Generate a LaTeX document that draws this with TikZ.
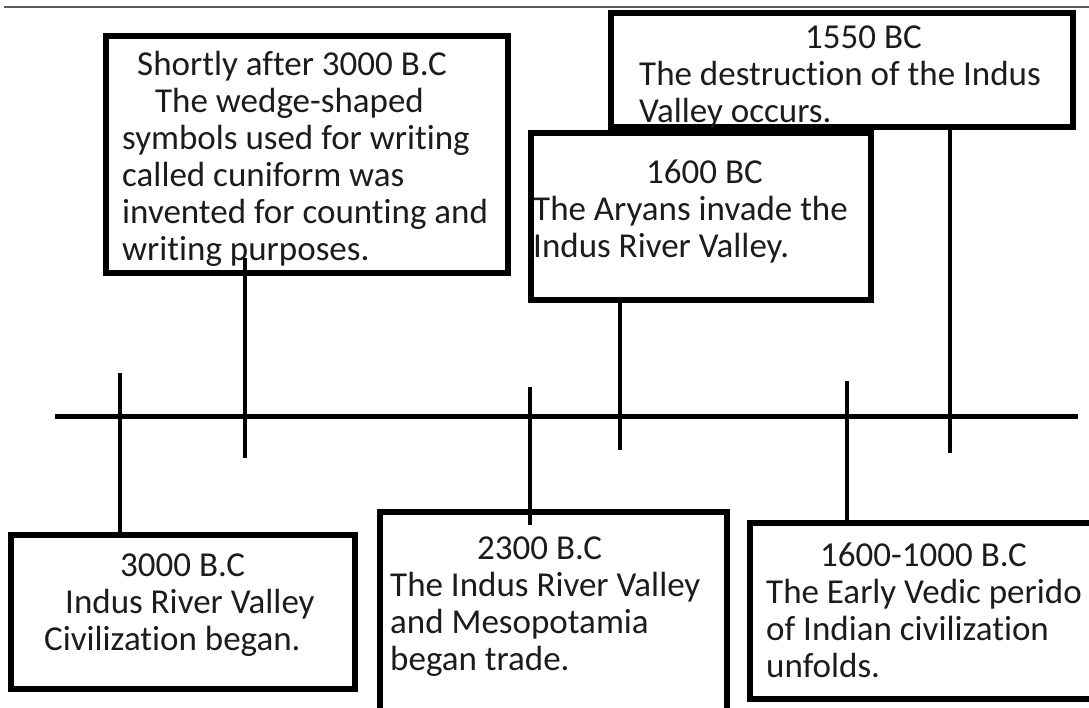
\documentclass[tikz,border=0pt]{standalone}
\usepackage{fontspec}
\setmainfont{Carlito}[Ligatures=NoCommon]
\usetikzlibrary{positioning,calc}
\definecolor{ink}{HTML}{1C1C1C}
\definecolor{rulegray}{HTML}{5A5A5A}
\tikzset{evbox/.style={draw=black,fill=white,line width=5.5pt,inner sep=0pt,anchor=north west},evtext/.style={anchor=north west,inner sep=0pt,align=left,text=ink,font=\fontsize{35}{37}\selectfont},tline/.style={draw=black,line width=5pt},tick/.style={draw=black,line width=4pt},topline/.style={draw=rulegray,line width=2pt}}

\begin{document}
\begin{tikzpicture}[x=1pt,y=1pt]
\useasboundingbox (0,0) rectangle (1089,-707);

\coordinate (topL) at (4,-7); \coordinate (topR) at (1089,-7);
\draw[topline] (topL)--(topR);

\node[evbox,minimum width=402pt,minimum height=237pt] (shortly) at (103,-33) {};
\node[evbox,minimum width=462pt,minimum height=114pt] (destroy) at (608,-10) {};
\node[evbox,minimum width=340pt,minimum height=167pt] (aryans) at (528,-130) {};
\node[evbox,minimum width=344pt,minimum height=154pt] (indus) at (8,-532) {};
\node[evbox,minimum width=347pt,minimum height=210pt] (trade) at (377,-509) {};
\node[evbox,minimum width=360pt,minimum height=176pt] (vedic) at (747,-520) {};

\node[evtext] (shortlytxt) at (122,-49) {\strut\hspace*{15pt}Shortly after 3000 B.C\\\hspace*{33pt}The wedge-shaped\\symbols used for writing\\called cuniform was\\invented for counting and\\writing purposes.};
\node[evtext] (destroytxt) at (639,-22) {\strut\hspace*{166pt}1550 BC\\The destruction of the Indus\\Valley occurs.};
\node[evtext] (aryanstxt) at (533,-157) {\strut\hspace*{113pt}1600 BC\\The Aryans invade the\\Indus River Valley.};
\node[evtext] (industxt) at (44,-550) {\strut\hspace*{76pt}3000 B.C\\\hspace*{21pt}Indus River Valley\\Civilization began.};
\node[evtext] (tradetxt) at (390,-533) {\strut\hspace*{87pt}2300 B.C\\The Indus River Valley\\and Mesopotamia\\began trade.};
\node[evtext] (vedictxt) at (766,-540) {\strut\hspace*{54pt}1600-1000 B.C\\The Early Vedic perido\\of Indian civilization\\unfolds.};

% timeline
\coordinate (tlL) at (55,-416); \coordinate (tlR) at (1078,-416);
\draw[tline] (tlL)--(tlR);

% ticks
\coordinate (indusTop) at (120,-373);
\coordinate (shortlyEnd) at (245,-458);
\coordinate (tradeTop) at (530,-387);
\coordinate (aryansEnd) at (620,-450);
\coordinate (vedicTop) at (847,-381);
\coordinate (destroyEnd) at (950,-453);
\draw[tick] (indusTop)--(indusTop |- indus.north);
\draw[tick] ($(shortly.south -| shortlyEnd)+(0,18)$)--(shortlyEnd);
\draw[tick] (tradeTop)--($(tradeTop |- trade.north)+(0,-16)$);
\draw[tick] (aryans.south -| aryansEnd)--(aryansEnd);
\draw[tick] (vedicTop)--(vedicTop |- vedic.north);
\draw[tick] (destroy.south -| destroyEnd)--(destroyEnd);
\end{tikzpicture}
\end{document}
